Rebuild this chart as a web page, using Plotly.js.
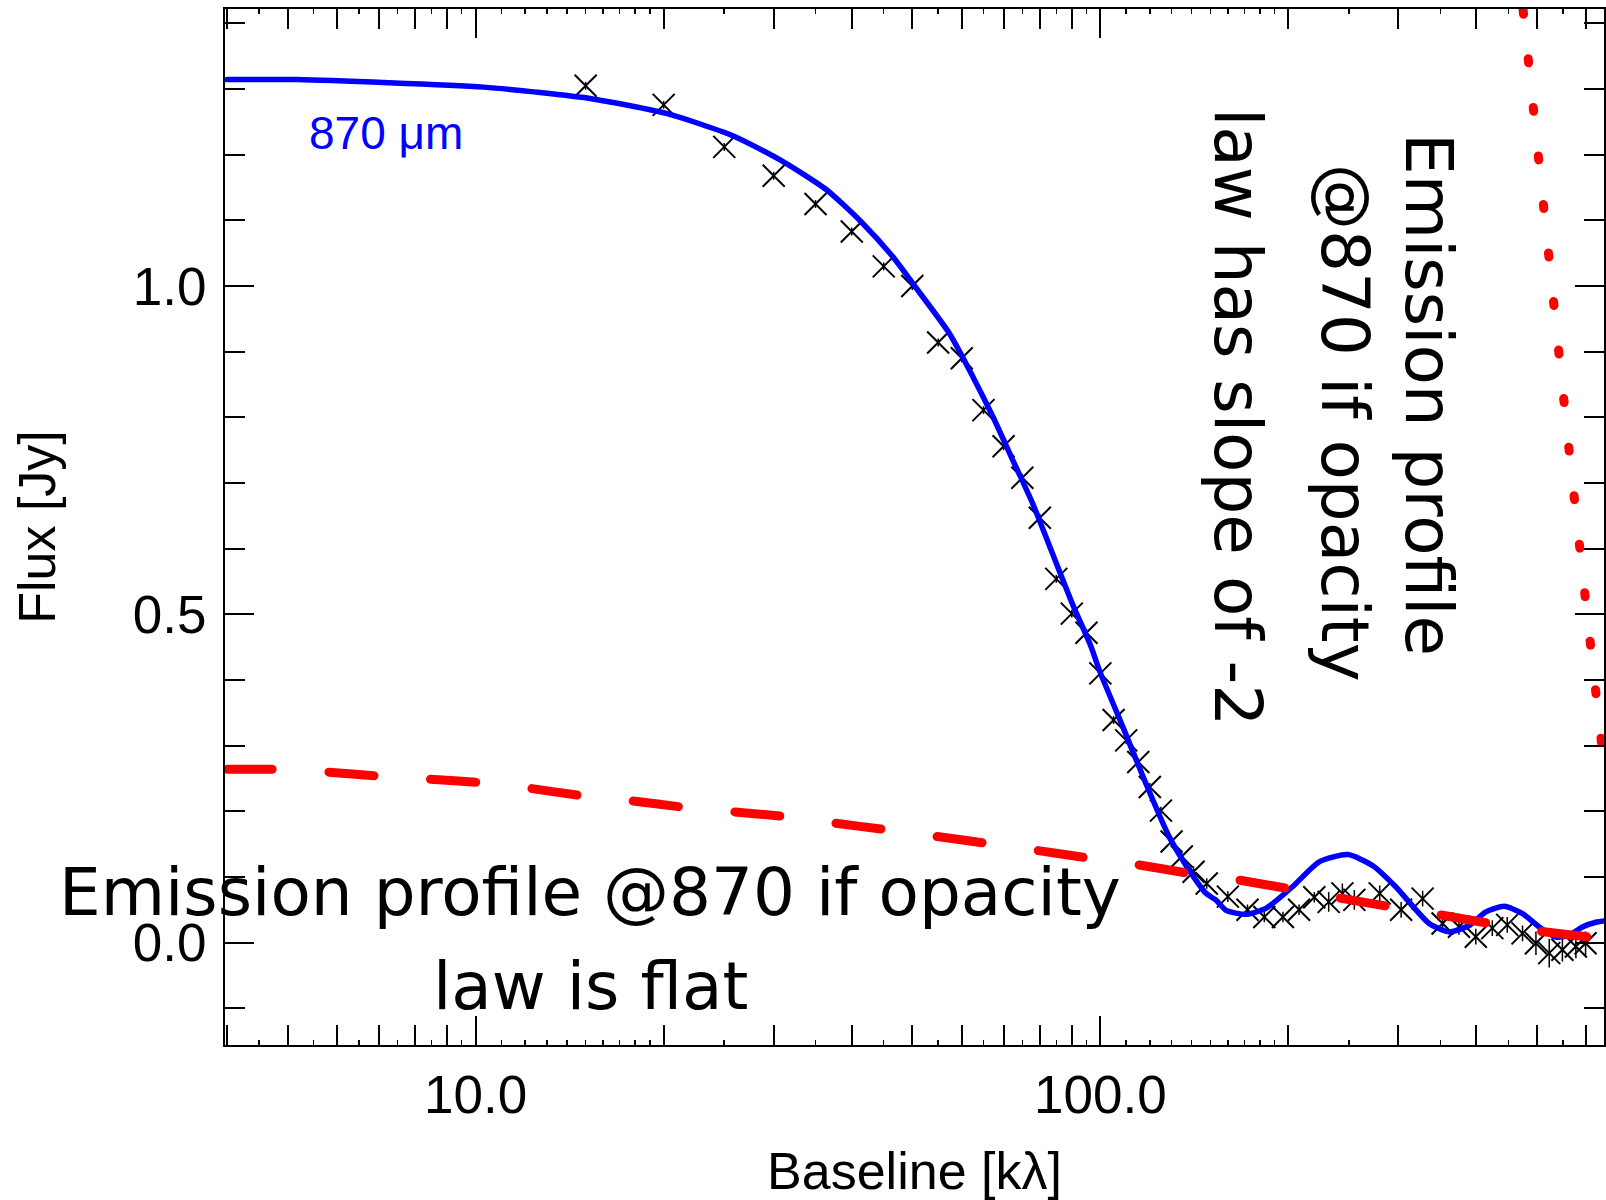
<!DOCTYPE html>
<html>
<head>
<meta charset="utf-8">
<script src="https://cdn.plot.ly/plotly-3.0.1.min.js"></script>
<style>
  html, body { margin: 0; padding: 0; background: #ffffff; }
  #chart { width: 1606px; height: 1200px; }
  .js-line { stroke-linecap: round; }
</style>
</head>
<body>
<div id="chart"></div>
<script>
// ---- data ----
// model visibility curve at 870 micron (blue)
const modelX = [4.0, 5.17, 10.3, 15.4, 20.2, 25.8, 31.0, 36.4, 41.4, 46.5, 51.0, 57.3, 62.5, 67.3, 72.4, 77.9, 83.4, 90.3, 96.6, 99.6, 108.6, 118.3, 128.9, 138.8, 147.6, 153.2, 159, 171, 184, 203, 224, 249, 273, 297, 336, 362, 390, 414, 443, 474, 504, 536, 563, 591, 621, 640];
const modelY = [1.3145, 1.3145, 1.303, 1.285, 1.263, 1.229, 1.190, 1.147, 1.098, 1.045, 0.994, 0.928, 0.862, 0.801, 0.735, 0.669, 0.598, 0.515, 0.451, 0.415, 0.329, 0.242, 0.161, 0.110, 0.075, 0.0645, 0.049, 0.043, 0.052, 0.085, 0.123, 0.134, 0.117, 0.085, 0.029, 0.0162, 0.0264, 0.0467, 0.0553, 0.0442, 0.0238, 0.0085, 0.011, 0.0238, 0.031, 0.033];

// observed visibilities (crosses)
const dataX = [15, 20, 25, 30, 35, 40, 45, 50, 55, 60, 65, 70, 75, 80, 85, 90, 95, 100, 105, 110, 115, 120, 125, 130, 135, 141, 148, 160, 172, 183, 196, 208, 220, 232, 244, 255, 280, 303, 328, 353, 375, 399, 424, 448, 474, 498, 523, 549, 577, 598];
const dataY = [1.305, 1.276, 1.212, 1.168, 1.125, 1.083, 1.030, 1.000, 0.914, 0.890, 0.811, 0.756, 0.708, 0.647, 0.554, 0.501, 0.472, 0.410, 0.339, 0.308, 0.275, 0.237, 0.201, 0.154, 0.131, 0.108, 0.090, 0.070, 0.050, 0.039, 0.039, 0.050, 0.069, 0.062, 0.075, 0.065, 0.075, 0.050, 0.067, 0.029, 0.024, 0.009, 0.022, 0.027, 0.014, -0.001, -0.016, -0.011, -0.006, -0.001];
const dataErr = [0.006, 0.006, 0.006, 0.006, 0.006, 0.006, 0.006, 0.006, 0.006, 0.006, 0.006, 0.006, 0.006, 0.006, 0.006, 0.006, 0.006, 0.006, 0.006, 0.006, 0.006, 0.006, 0.006, 0.006, 0.006, 0.008, 0.008, 0.008, 0.008, 0.008, 0.008, 0.008, 0.008, 0.015, 0.015, 0.015, 0.012, 0.012, 0.012, 0.012, 0.012, 0.012, 0.012, 0.012, 0.012, 0.018, 0.022, 0.018, 0.018, 0.018];

// emission profile if opacity law is flat (red dashed)
const flatX = [4.0, 4.82, 5.73, 7.02, 8.39, 10.2, 12.2, 14.85, 17.7, 21.6, 26.0, 31.3, 37.5, 45.3, 54.3, 65.9, 78.4, 96.8, 114, 139.6, 167, 203, 241, 294, 351, 424, 507, 617, 640];
const flatY = [0.264, 0.264, 0.260, 0.2535, 0.249, 0.2435, 0.235, 0.2235, 0.216, 0.206, 0.199, 0.192, 0.182, 0.172, 0.162, 0.151, 0.141, 0.128, 0.119, 0.105, 0.095, 0.081, 0.068, 0.054, 0.042, 0.0285, 0.017, 0.0076, 0.006];

// emission profile if opacity law has slope -2 (red dotted)
const steepX = [475, 502, 531, 563, 597, 633, 640];
const steepY = [1.42, 1.194, 0.971, 0.748, 0.527, 0.304, 0.27];

// axis ticks
const xMajor = [10, 100];
const xMajorText = ['10.0', '100.0'];
const xMedium = [4, 5, 6, 7, 8, 9, 20, 30, 40, 50, 60, 70, 80, 90, 200, 300, 400, 500, 600];
const xSmall = [4.5, 5.5, 6.5, 7.5, 8.5, 9.5, 11, 12, 13, 14, 15, 16, 17, 18, 19, 25, 35, 45, 55, 65, 75, 85, 95, 110, 120, 130, 140, 150, 160, 170, 180, 190, 250, 350, 450, 550];
const yMajor = [0, 0.5, 1.0];
const yMajorText = ['0.0', '0.5', '1.0'];
const yMinor = [-0.1, 0.1, 0.2, 0.3, 0.4, 0.6, 0.7, 0.8, 0.9, 1.1, 1.2, 1.3, 1.4];

const xRange = [Math.log10(3.97), Math.log10(640)];
const yRange = [-0.156, 1.422];

// ---- traces ----
const traces = [
  {
    x: dataX, y: dataY, type: 'scatter', mode: 'markers', name: 'data',
    marker: { symbol: 'x-thin', size: 22, color: '#000000', line: { color: '#000000', width: 2 } },
    error_y: { type: 'data', array: dataErr, visible: true, color: '#000000', thickness: 1.5, width: 0 }
  },
  {
    x: modelX, y: modelY, type: 'scatter', mode: 'lines', name: '870 μm',
    line: { color: '#0000ff', width: 5.5, shape: 'spline', smoothing: 0.6 }
  },
  {
    x: flatX, y: flatY, type: 'scatter', mode: 'lines', name: 'flat opacity law',
    line: { color: '#ff0000', width: 9, dash: '45px,57px', shape: 'spline', smoothing: 0.5 }
  },
  {
    x: steepX, y: steepY, type: 'scatter', mode: 'lines', name: 'opacity slope -2',
    line: { color: '#ff0000', width: 9, dash: '4px,44.8px' }
  },
  // empty helper traces so the mirrored / extra tick axes get drawn
  { x: [], y: [], type: 'scatter', mode: 'lines', xaxis: 'x2', yaxis: 'y2', hoverinfo: 'skip', showlegend: false },
  { x: [], y: [], type: 'scatter', mode: 'lines', xaxis: 'x3', yaxis: 'y', hoverinfo: 'skip', showlegend: false },
  { x: [], y: [], type: 'scatter', mode: 'lines', xaxis: 'x4', yaxis: 'y', hoverinfo: 'skip', showlegend: false }
];

const tickFont = { family: 'Liberation Sans, Arial, sans-serif', size: 53, color: '#000000' };
const commentFont = { family: 'DejaVu Sans, sans-serif', size: 66, color: '#000000' };

const layout = {
  width: 1606, height: 1200,
  margin: { l: 225, r: 2, t: 9, b: 155 },
  paper_bgcolor: '#ffffff', plot_bgcolor: '#ffffff',
  showlegend: false,
  xaxis: {
    type: 'log', range: xRange, showgrid: false, zeroline: false,
    showline: true, linecolor: '#000000', linewidth: 2, mirror: true,
    ticks: 'inside', tickmode: 'array', tickvals: xMajor, ticktext: xMajorText,
    ticklen: 29, tickwidth: 2, tickcolor: '#000000',
    tickfont: tickFont, ticklabelstandoff: 2,
    minor: { tickmode: 'array', tickvals: xMedium, ticks: 'inside', ticklen: 20, tickwidth: 2, tickcolor: '#000000', showgrid: false },
    title: { text: 'Baseline [kλ]', font: { family: 'Liberation Sans, Arial, sans-serif', size: 52, color: '#000000' }, standoff: 40 }
  },
  xaxis2: {
    type: 'log', range: xRange, overlaying: 'x', side: 'top', anchor: 'y2',
    showgrid: false, zeroline: false, showline: false, showticklabels: false,
    ticks: 'inside', tickmode: 'array', tickvals: xMajor, ticklen: 29, tickwidth: 2, tickcolor: '#000000',
    minor: { tickmode: 'array', tickvals: xMedium, ticks: 'inside', ticklen: 20, tickwidth: 2, tickcolor: '#000000', showgrid: false }
  },
  xaxis3: {
    type: 'log', range: xRange, overlaying: 'x', side: 'bottom', anchor: 'y',
    showgrid: false, zeroline: false, showline: false, showticklabels: false,
    ticks: 'inside', tickmode: 'array', tickvals: xSmall, ticklen: 5, tickwidth: 1.5, tickcolor: '#000000'
  },
  xaxis4: {
    type: 'log', range: xRange, overlaying: 'x', side: 'top', anchor: 'y',
    showgrid: false, zeroline: false, showline: false, showticklabels: false,
    ticks: 'inside', tickmode: 'array', tickvals: xSmall, ticklen: 5, tickwidth: 1.5, tickcolor: '#000000'
  },
  yaxis: {
    range: yRange, showgrid: false, zeroline: false,
    showline: true, linecolor: '#000000', linewidth: 2, mirror: true,
    ticks: 'inside', tickmode: 'array', tickvals: yMajor, ticktext: yMajorText,
    ticklen: 29, tickwidth: 2, tickcolor: '#000000',
    tickfont: tickFont, ticklabelstandoff: 6,
    minor: { tickmode: 'array', tickvals: yMinor, ticks: 'inside', ticklen: 20, tickwidth: 2, tickcolor: '#000000', showgrid: false },
    title: { text: 'Flux [Jy]', font: { family: 'Liberation Sans, Arial, sans-serif', size: 52, color: '#000000' }, standoff: 61 }
  },
  yaxis2: {
    range: yRange, overlaying: 'y', side: 'right', anchor: 'x2',
    showgrid: false, zeroline: false, showline: false, showticklabels: false,
    ticks: 'inside', tickmode: 'array', tickvals: yMajor, ticklen: 29, tickwidth: 2, tickcolor: '#000000',
    minor: { tickmode: 'array', tickvals: yMinor, ticks: 'inside', ticklen: 20, tickwidth: 2, tickcolor: '#000000', showgrid: false }
  },
  annotations: [
    { text: '870 μm', xref: 'paper', yref: 'paper', x: 0.1167, y: 0.8803, xanchor: 'center', yanchor: 'middle', showarrow: false,
      font: { family: 'Liberation Sans, Arial, sans-serif', size: 46, color: '#0000ff' } },
    { text: 'Emission profile @870 if opacity', xref: 'paper', yref: 'paper', x: 0.2647, y: 0.1475, xanchor: 'center', yanchor: 'middle', showarrow: false, font: commentFont },
    { text: 'law is flat', xref: 'paper', yref: 'paper', x: 0.2647, y: 0.056, xanchor: 'center', yanchor: 'middle', showarrow: false, font: commentFont },
    { text: 'Emission profile', xref: 'paper', yref: 'paper', x: 0.8724, y: 0.6284, xanchor: 'center', yanchor: 'middle', showarrow: false, textangle: 90, font: commentFont },
    { text: '@870 if opacity', xref: 'paper', yref: 'paper', x: 0.8115, y: 0.6004, xanchor: 'center', yanchor: 'middle', showarrow: false, textangle: 90, font: commentFont },
    { text: 'law has slope of -2', xref: 'paper', yref: 'paper', x: 0.7339, y: 0.6062, xanchor: 'center', yanchor: 'middle', showarrow: false, textangle: 90, font: commentFont }
  ]
};

Plotly.newPlot('chart', traces, layout, { staticPlot: true, displayModeBar: false });
</script>
</body>
</html>
